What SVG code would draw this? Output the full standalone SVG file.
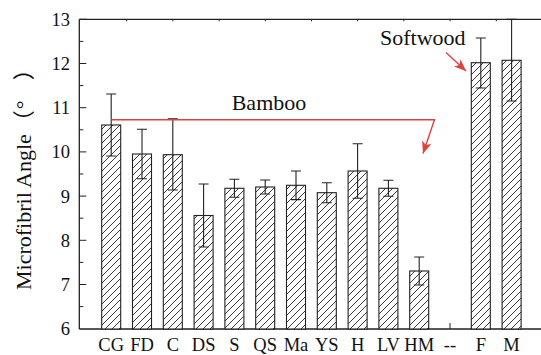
<svg xmlns="http://www.w3.org/2000/svg" width="541" height="355" viewBox="0 0 541 355" font-family="Liberation Serif, Times New Roman, Tinos, Noto Serif, FreeSerif, DejaVu Serif, serif">
<style>
.ax{stroke:#222;stroke-width:1.3;fill:none}
.tk{stroke:#222;stroke-width:1;fill:none}
.bar{fill:url(#hatch);stroke:#222;stroke-width:1.1}
.eb{stroke:#222;stroke-width:1.1;fill:none}
.red{stroke:#e0413a;stroke-width:1.4;fill:none}
.lab{font-size:18.5px;fill:#111}
.big{font-size:22px;fill:#111}
</style>
<defs>
<pattern id="hatch" patternUnits="userSpaceOnUse" width="7" height="7">
<rect width="7" height="7" fill="#fff"/>
<path d="M-1,8 L8,-1 M-1,1 L1,-1 M6,8 L8,6" stroke="#222" stroke-width="0.9"/>
</pattern>
<marker id="ah" markerUnits="userSpaceOnUse" markerWidth="14" markerHeight="10" refX="12" refY="5" orient="auto">
<path d="M0,0 L12,5 L0,10 L3,5 Z" fill="#e0413a"/>
</marker>
</defs>

<g id="axes">
<path class="ax" d="M79.3,19.3 L79.3,329 M79.3,19.3 L541,19.3 M79.3,329 L541,329"/>
<path class="tk" d="M79.3,19.3h7 M79.3,63.5h7 M79.3,107.7h7 M79.3,151.9h7 M79.3,196.1h7 M79.3,240.3h7 M79.3,284.5h7
M79.3,41.4h4 M79.3,85.6h4 M79.3,129.8h4 M79.3,174h4 M79.3,218.2h4 M79.3,262.4h4 M79.3,306.6h4
M126.7,19.3v2 M172.9,19.3v2 M219.1,19.3v2 M265.3,19.3v2 M311.5,19.3v2 M357.7,19.3v2 M403.9,19.3v2 M450.1,19.3v2 M496.3,19.3v2
M111.2,329v-6 M142,329v-6 M172.8,329v-6 M203.6,329v-6 M234.4,329v-6 M265.2,329v-6 M296,329v-6 M326.8,329v-6 M357.6,329v-6 M388.4,329v-6 M419.2,329v-6 M450,329v-6 M480.8,329v-6 M511.6,329v-6"/>
<g text-anchor="end">
<text class="lab" x="70" y="25.8">13</text>
<text class="lab" x="70" y="70">12</text>
<text class="lab" x="70" y="114.2">11</text>
<text class="lab" x="70" y="158.4">10</text>
<text class="lab" x="70" y="202.6">9</text>
<text class="lab" x="70" y="246.8">8</text>
<text class="lab" x="70" y="291">7</text>
<text class="lab" x="70" y="335.2">6</text>
</g>
<g text-anchor="middle">
<text class="lab" x="111.2" y="350.5">CG</text>
<text class="lab" x="142" y="350.5">FD</text>
<text class="lab" x="172.8" y="350.5">C</text>
<text class="lab" x="203.6" y="350.5">DS</text>
<text class="lab" x="234.4" y="350.5">S</text>
<text class="lab" x="265.2" y="350.5">QS</text>
<text class="lab" x="296" y="350.5">Ma</text>
<text class="lab" x="326.8" y="350.5">YS</text>
<text class="lab" x="357.6" y="350.5">H</text>
<text class="lab" x="388.4" y="350.5">LV</text>
<text class="lab" x="419.2" y="350.5">HM</text>
<text class="lab" x="450" y="350.5">--</text>
<text class="lab" x="480.8" y="350.5">F</text>
<text class="lab" x="511.6" y="350.5">M</text>
</g>
<text class="big" transform="translate(31,290) rotate(-90)">Microfibril Angle<tspan font-family="Noto Sans CJK SC, sans-serif" dx="2">（</tspan><tspan dx="1">°</tspan><tspan font-family="Noto Sans CJK SC, sans-serif" dx="20">）</tspan></text>
</g>

<g id="bar-CG"><rect class="bar" x="101.7" y="125" width="19" height="204"/><path class="eb" d="M111.2,94V156M106.2,94h10M106.2,156h10"/></g>
<g id="bar-FD"><rect class="bar" x="132.5" y="154" width="19" height="175"/><path class="eb" d="M142,129.3V178.7M137,129.3h10M137,178.7h10"/></g>
<g id="bar-C"><rect class="bar" x="163.3" y="154.7" width="19" height="174.3"/><path class="eb" d="M172.8,118.7V190M167.8,118.7h10M167.8,190h10"/></g>
<g id="bar-DS"><rect class="bar" x="194.1" y="215.5" width="19" height="113.5"/><path class="eb" d="M203.6,184V247M198.6,184h10M198.6,247h10"/></g>
<g id="bar-S"><rect class="bar" x="224.9" y="188.3" width="19" height="140.7"/><path class="eb" d="M234.4,179.3V197.3M229.4,179.3h10M229.4,197.3h10"/></g>
<g id="bar-QS"><rect class="bar" x="255.7" y="187" width="19" height="142"/><path class="eb" d="M265.2,180V194M260.2,180h10M260.2,194h10"/></g>
<g id="bar-Ma"><rect class="bar" x="286.5" y="185.3" width="19" height="143.7"/><path class="eb" d="M296,171V199.6M291,171h10M291,199.6h10"/></g>
<g id="bar-YS"><rect class="bar" x="317.3" y="192.7" width="19" height="136.3"/><path class="eb" d="M326.8,182.7V202.7M321.8,182.7h10M321.8,202.7h10"/></g>
<g id="bar-H"><rect class="bar" x="348.1" y="171" width="19" height="158"/><path class="eb" d="M357.6,143.7V198.3M352.6,143.7h10M352.6,198.3h10"/></g>
<g id="bar-LV"><rect class="bar" x="378.9" y="188.3" width="19" height="140.7"/><path class="eb" d="M388.4,180.3V196.3M383.4,180.3h10M383.4,196.3h10"/></g>
<g id="bar-HM"><rect class="bar" x="409.7" y="271" width="19" height="58"/><path class="eb" d="M419.2,257V285M414.2,257h10M414.2,285h10"/></g>
<g id="bar-F"><rect class="bar" x="471.3" y="62.7" width="19" height="266.3"/><path class="eb" d="M480.8,38V88M475.8,38h10M475.8,88h10"/></g>
<g id="bar-M"><rect class="bar" x="502.1" y="60.3" width="19" height="268.7"/><path class="eb" d="M511.6,19.3V101M506.6,19.3h10M506.6,101h10"/></g>

<g id="connectors">
<path class="red" d="M111.5,119.8 L434.5,119.8 L423,153.5" marker-end="url(#ah)"/>
<path class="red" d="M446,52.5 L466,71" marker-end="url(#ah)"/>
</g>
<g id="label-bamboo"><text class="big" x="231.7" y="110">Bamboo</text></g>
<g id="label-softwood"><text class="big" x="380" y="45">Softwood</text></g>
</svg>
